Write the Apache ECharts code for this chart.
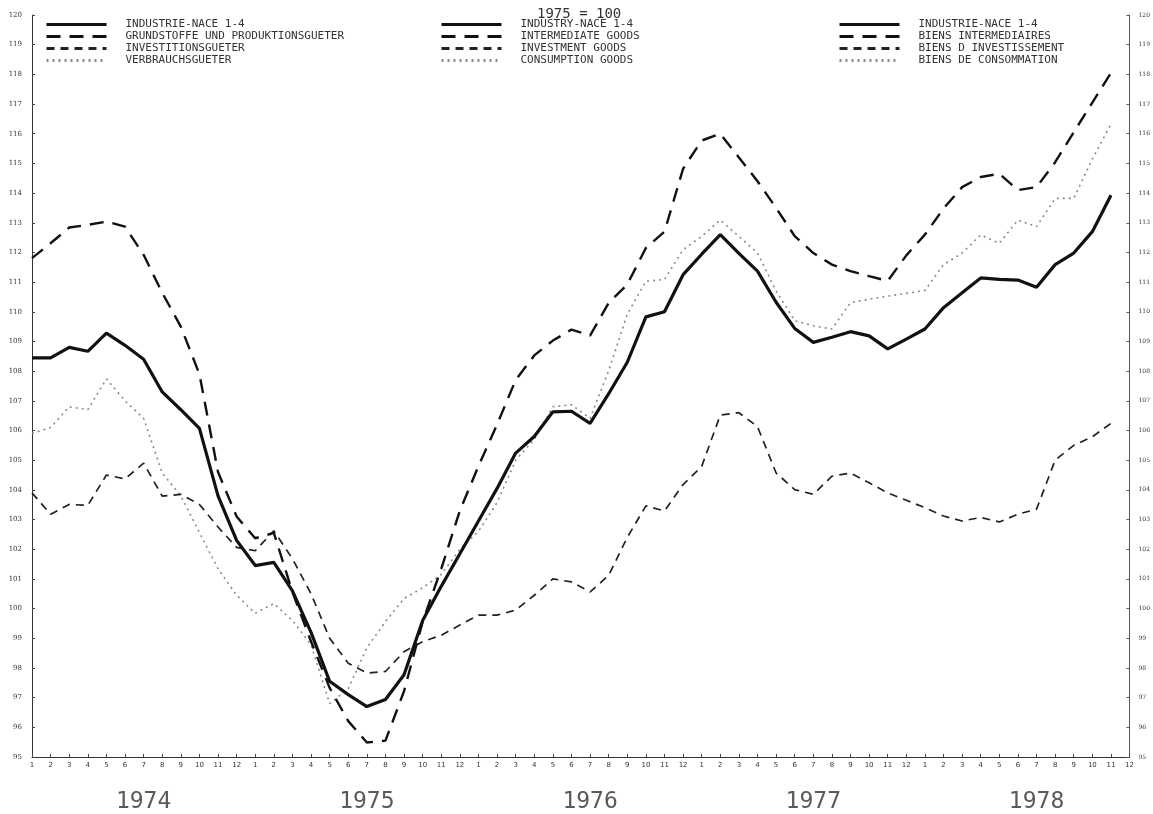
<!DOCTYPE html>
<html>
<head>
<meta charset="utf-8">
<script src="https://cdn.jsdelivr.net/npm/echarts@6/dist/echarts.min.js"></script>
<style>
html,body{margin:0;padding:0;background:#fff;}
#chart{width:1153px;height:814px;}
</style>
</head>
<body>
<div id="chart"></div>
<script>
// ---- data ----
const monthTicks = ['1','2','3','4','5','6','7','8','9','10','11','12'];
const years = ['1974','1975','1976','1977','1978'];
const yTicks = {min: 95, max: 120, step: 1};

const industry = [108.45,108.45,108.8,108.67,109.28,108.87,108.4,107.3,106.7,106.07,
  103.8,102.3,101.45,101.56,100.6,99.2,97.55,97.1,96.7,96.94,
  97.77,99.6,100.75,101.85,102.95,104.05,105.24,105.8,106.63,106.65,
  106.24,107.24,108.3,109.83,110.0,111.25,111.94,112.6,111.97,111.37,
  110.32,109.44,108.97,109.14,109.33,109.19,108.75,109.08,109.42,110.14,
  110.64,111.14,111.09,111.07,110.83,111.59,111.98,112.7,113.93];

const intermediate = [111.81,112.31,112.84,112.93,113.04,112.87,111.92,110.64,109.5,107.9,
  104.6,103.1,102.37,102.55,100.56,98.89,97.33,96.21,95.49,95.55,
  97.22,99.56,101.34,103.3,104.8,106.2,107.7,108.53,109.03,109.4,
  109.2,110.3,110.92,112.15,112.7,114.82,115.77,116.0,115.2,114.4,
  113.5,112.55,111.98,111.59,111.37,111.2,111.04,111.9,112.6,113.48,
  114.2,114.54,114.65,114.1,114.2,115.04,116.05,117.05,118.05];

const investment = [103.9,103.18,103.51,103.48,104.5,104.37,104.9,103.79,103.85,103.51,
  102.75,102.06,101.95,102.62,101.68,100.5,99.0,98.16,97.83,97.88,
  98.55,98.89,99.1,99.45,99.78,99.78,99.95,100.45,101.0,100.9,
  100.56,101.12,102.4,103.46,103.29,104.18,104.79,106.52,106.6,106.13,
  104.57,104.01,103.85,104.46,104.57,104.24,103.9,103.65,103.4,103.12,
  102.95,103.07,102.92,103.18,103.35,105.0,105.5,105.79,106.24];

const consumption = [105.9,106.1,106.8,106.7,107.74,107.0,106.41,104.57,103.8,102.56,
  101.34,100.45,99.84,100.17,99.6,98.78,96.8,97.3,98.68,99.56,
  100.34,100.7,101.15,102.0,102.6,103.57,105.0,105.7,106.8,106.87,
  106.41,108.02,109.92,111.03,111.09,112.09,112.54,113.09,112.54,111.98,
  110.7,109.7,109.53,109.42,110.31,110.42,110.53,110.62,110.72,111.59,
  111.98,112.59,112.31,113.09,112.87,113.82,113.82,115.15,116.32];

const namesDE = ['INDUSTRIE-NACE 1-4','GRUNDSTOFFE UND PRODUKTIONSGUETER','INVESTITIONSGUETER','VERBRAUCHSGUETER'];
const namesEN = ['INDUSTRY-NACE 1-4','INTERMEDIATE GOODS','INVESTMENT GOODS','CONSUMPTION GOODS'];
const namesFR = ['INDUSTRIE-NACE 1-4 ','BIENS INTERMEDIAIRES','BIENS D INVESTISSEMENT','BIENS DE CONSOMMATION'];
const baseText = '1975 = 100';

// ---- build ----
const categories = [];
years.forEach(() => monthTicks.forEach(m => categories.push(m)));

const styles = [
  {color:'#111', width:3.2, type:'solid'},
  {color:'#111', width:2.4, type:[14,9]},
  {color:'#222', width:1.7, type:[8,6]},
  {color:'#8a8a8a', width:1.6, type:[2,4]}
];
const seriesData = [industry, intermediate, investment, consumption];

const series = [];
function mkSeries(name, data, k){
  return {
    name: name, type:'line', data: data, symbol:'none', smooth:false,
    color: styles[k].color,
    itemStyle: {color: styles[k].color, opacity: 0},
    lineStyle: Object.assign({}, styles[k]), z: 10 - k, animation:false
  };
}
seriesData.forEach((d, k) => series.push(mkSeries(namesEN[k], d, k)));
[namesDE, namesFR].forEach(names => {
  names.forEach((n, k) => series.push(mkSeries(n, [], k)));
});

const legendText = {fontFamily:'DejaVu Sans Mono', fontSize:11, color:'#333', padding:[0,0,0,14]};
function mkLegend(names, left){
  return {
    data: names, left: left, top: 19, orient:'vertical', padding: 0,
    itemWidth: 60, itemHeight: 11, itemGap: 1, selectedMode:false,
    textStyle: legendText,
    itemStyle: {opacity: 0},
    lineStyle: {width: 3}
  };
}

const chart = echarts.init(document.getElementById('chart'), null, {renderer:'canvas'});
chart.setOption({
  backgroundColor:'#fff',
  animation:false,
  title: {text: baseText, left: 537, top: 7, padding: 0,
    textStyle:{fontFamily:'DejaVu Sans Mono', fontSize:14, fontWeight:'normal', color:'#333'}},
  legend: [mkLegend(namesDE, 45), mkLegend(namesEN, 440), mkLegend(namesFR, 838)],
  grid: {left: 32, right: 17, top: 15, bottom: 51},
  xAxis: [{
    type:'category', data: categories, boundaryGap:false,
    axisLine:{lineStyle:{color:'#333', width:1}},
    axisTick:{inside:true, length:3, interval:0, lineStyle:{color:'#444'}},
    axisLabel:{interval:0, fontSize:7, color:'#333', margin:5, fontFamily:'DejaVu Sans'},
    splitLine:{show:false}
  },{
    type:'category', data: categories, boundaryGap:false, position:'bottom', offset: 26,
    axisLine:{show:false}, axisTick:{show:false},
    axisLabel:{
      interval: (i) => i % 12 === 6,
      formatter: (v, i) => years[Math.floor(i / 12)],
      fontSize: 23, color:'#5a5a5a', fontFamily:'DejaVu Sans Mono'
    }
  }],
  yAxis: [{
    type:'value', min: yTicks.min, max: yTicks.max, interval: yTicks.step,
    axisLine:{show:true, lineStyle:{color:'#333'}},
    axisTick:{show:true, inside:true, length:3, lineStyle:{color:'#444'}},
    axisLabel:{fontSize:7, color:'#333', margin:10, fontFamily:'DejaVu Serif'},
    splitLine:{show:false}
  },{
    type:'value', min: yTicks.min, max: yTicks.max, interval: yTicks.step, position:'right',
    axisLine:{show:true, lineStyle:{color:'#555'}},
    axisTick:{show:true, inside:true, length:3, lineStyle:{color:'#555'}},
    axisLabel:{fontSize:6, color:'#333', margin:9, fontFamily:'DejaVu Serif'},
    splitLine:{show:false}
  }],
  series: series
});
</script>
</body>
</html>
